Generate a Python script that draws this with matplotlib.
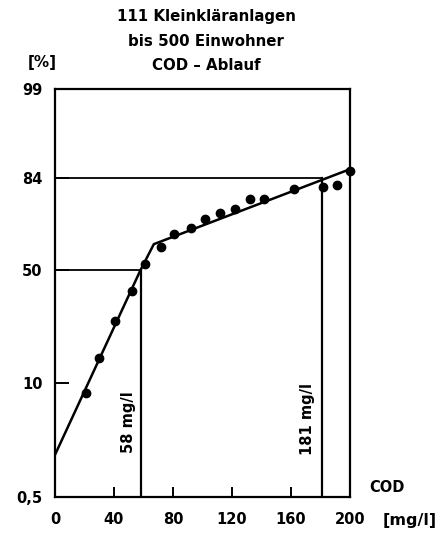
from statistics import NormalDist

import matplotlib
matplotlib.use('Agg')
import matplotlib.pyplot as plt
import numpy as np

# Messwerte: CSB im Ablauf [mg/l] und Summenhäufigkeit [%]
cod_values = [21, 30, 41, 52, 61, 72, 81, 92, 102, 112, 122, 132, 142, 162, 182, 191, 200]
cum_percent = [8.2, 16, 28, 40.5, 52.5, 60, 65, 67.5, 71, 73, 74.5, 78, 77.8, 81, 81.5, 82, 86.4]

# Ausgleichsgerade (Knick bei ca. 67 mg/l)
fit_cod = [0, 58, 67, 200]
fit_percent = [1.8, 50, 61, 87]

# Kennwerte: 50%- und 84%-Wert
median_cod = 58
p84_cod = 181

y_ticks = [0.5, 10, 50, 84, 99]
y_labels = ['0,5', '10', '50', '84', '99']
x_ticks = [0, 40, 80, 120, 160, 200]

title_lines = ['111 Kleinkläranlagen', 'bis 500 Einwohner', 'COD – Ablauf']

# Wahrscheinlichkeitsnetz: Probit-Achse, stückweise an die Teilung angepasst
_nd = NormalDist()
_tick_z = np.array([_nd.inv_cdf(p / 100) for p in y_ticks])
_tick_pos = np.array([0, 114, 227, 319, 408], dtype=float)
_slope_lo, _slope_hi = 88.0, 67.0


def _fwd(p):
    p = np.clip(np.asarray(p, dtype=float), 1e-4, 100 - 1e-4)
    z = np.vectorize(lambda v: _nd.inv_cdf(v / 100), otypes=[float])(p)
    lo = _tick_pos[0] + (z - _tick_z[0]) * _slope_lo
    hi = _tick_pos[-1] + (z - _tick_z[-1]) * _slope_hi
    mid = np.interp(z, _tick_z, _tick_pos)
    return np.where(z < _tick_z[0], lo, np.where(z > _tick_z[-1], hi, mid))


def _inv(y):
    y = np.asarray(y, dtype=float)
    lo = _tick_z[0] + (y - _tick_pos[0]) / _slope_lo
    hi = _tick_z[-1] + (y - _tick_pos[-1]) / _slope_hi
    mid = np.interp(y, _tick_pos, _tick_z)
    z = np.clip(np.where(y < _tick_pos[0], lo, np.where(y > _tick_pos[-1], hi, mid)), -8, 8)
    return np.vectorize(lambda v: _nd.cdf(v) * 100, otypes=[float])(z)


plt.rcParams['font.family'] = ['DejaVu Sans']
plt.rcParams['font.weight'] = 'bold'

W, H = 442, 539
fig = plt.figure(figsize=(W / 100, H / 100), dpi=100)
ax = fig.add_axes([55 / W, 42 / H, 295 / W, 408 / H])
ax.set_yscale('function', functions=(_fwd, _inv))
ax.set_xlim(0, 200)
ax.set_ylim(0.5, 99)

for s in ax.spines.values():
    s.set_linewidth(1.6)

# Hilfslinien für 50 % und 84 %
ax.plot([0, median_cod], [50, 50], color='black', lw=1.3)
ax.plot([median_cod, median_cod], [0.5, 50], color='black', lw=1.6)
ax.plot([0, p84_cod], [84, 84], color='black', lw=1.3)
ax.plot([p84_cod, p84_cod], [0.5, 84], color='black', lw=1.6)

ax.plot(fit_cod, fit_percent, color='black', lw=1.8, solid_capstyle='round')
ax.plot(cod_values, cum_percent, 'o', color='black', ms=6, clip_on=False)

ax.text(50, 4.2, f'{median_cod} mg/l', rotation=90, ha='center', va='center', fontsize=10.5)
ax.text(171, 4.5, f'{p84_cod} mg/l', rotation=90, ha='center', va='center', fontsize=10.5)

ax.set_yticks(y_ticks)
ax.set_yticklabels(y_labels)
ax.yaxis.set_minor_locator(matplotlib.ticker.NullLocator())
ax.set_xticks(x_ticks)
ax.tick_params(axis='y', direction='in', length=10, width=1.4, pad=9, labelsize=10.5)
ax.tick_params(axis='x', direction='in', length=7, width=1.4, pad=11, labelsize=10.5)

for i, line in enumerate(title_lines):
    fig.text(206 / W, 1 - (17 + 24 * i) / H, line, ha='center', va='center', fontsize=10.8)
fig.text(42 / W, 1 - 62 / H, '[%]', ha='center', va='center', fontsize=11)
fig.text(387 / W, 1 - 488 / H, 'COD', ha='center', va='center', fontsize=10.5)
fig.text(410 / W, 1 - 520 / H, '[mg/l]', ha='center', va='center', fontsize=11.5)

fig.savefig('out.png', dpi=100)
